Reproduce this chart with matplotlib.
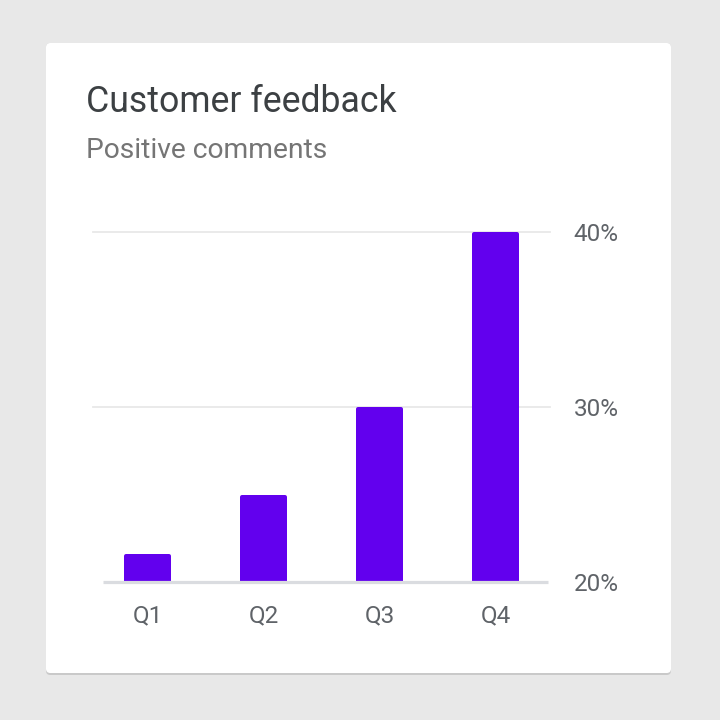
import matplotlib
matplotlib.use('Agg')
import matplotlib.pyplot as plt
from matplotlib.patches import FancyBboxPatch

quarters = ['Q1', 'Q2', 'Q3', 'Q4']
positive = [21.6, 25.0, 30.0, 40.0]
ticks = [20, 30, 40]
tick_labels = ['20%', '30%', '40%']

plt.rcParams['font.family'] = ['Roboto', 'DejaVu Sans']

W = H = 720
fig = plt.figure(figsize=(7.2, 7.2), dpi=100)
fig.patch.set_facecolor('#e8e8e8')

def fx(px):
	return px / W

def fy(py):
	return 1 - py / H

# card shadow + card (below the axes)
shadow = FancyBboxPatch((fx(46), fy(675)), fx(625), 632 / H,
	boxstyle='round,pad=0,rounding_size=0.006', transform=fig.transFigure,
	facecolor='#c9c9c9', edgecolor='none', zorder=-2)
card = FancyBboxPatch((fx(46), fy(673)), fx(625), 630 / H,
	boxstyle='round,pad=0,rounding_size=0.006', transform=fig.transFigure,
	facecolor='white', edgecolor='none', zorder=-1)
fig.patches.extend([shadow, card])

fig.text(fx(86), fy(102), 'Customer feedback', fontsize=25.7, color='#3c4043', va='center')
fig.text(fx(86), fy(150), 'Positive comments', fontsize=20.3, color='#757575', va='center')

ax = fig.add_axes([fx(93), fy(582), fx(550 - 93), (582 - 232) / H])
ax.set_facecolor('none')
for s in ax.spines.values():
	s.set_visible(False)

x = range(len(quarters))
ax.set_ylim(20, 40)
ax.set_xlim(-0.47, 3.47)

for t in ticks[1:]:
	ax.axhline(t, color='#e8e8e8', linewidth=1.3, zorder=1, clip_on=False)

lw_px = 4
ax.bar(x, [v - 20 - 0.12 for v in positive], bottom=20, width=0.37,
	color='#6200ee', edgecolor='#6200ee', linewidth=lw_px * 72 / 100,
	joinstyle='round', zorder=2, clip_on=False)

ax.plot([-0.38, 3.45], [20, 20], color='#dadce0', linewidth=2.3,
	solid_capstyle='butt', zorder=3, clip_on=False)

ax.yaxis.tick_right()
ax.set_yticks(ticks)
ax.set_yticklabels(tick_labels)
ax.set_xticks(list(x))
ax.set_xticklabels(quarters)
ax.tick_params(axis='y', length=0, pad=17, labelsize=17.5, labelcolor='#5f6368')
ax.tick_params(axis='x', length=0, pad=16, labelsize=17.5, labelcolor='#5f6368')

fig.savefig('out.png', dpi=100, facecolor=fig.get_facecolor())
